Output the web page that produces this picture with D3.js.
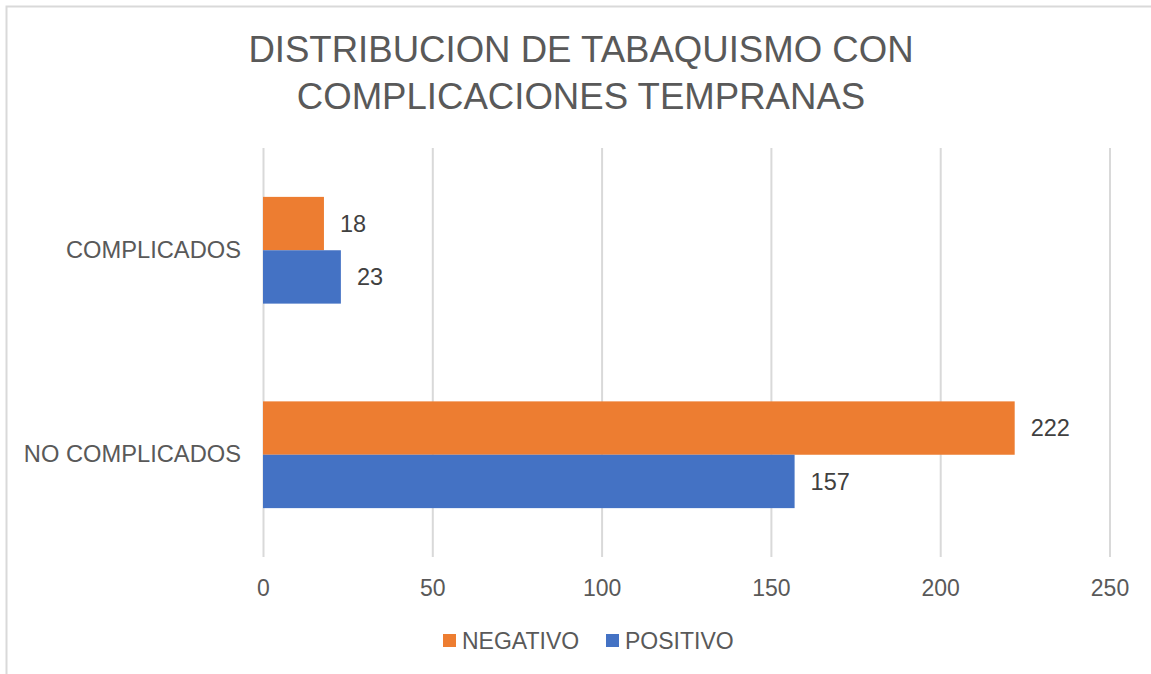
<!DOCTYPE html>
<html>
<head>
<meta charset="utf-8">
<script src="https://cdn.jsdelivr.net/npm/d3@7"></script>
<style>
  html, body { margin: 0; padding: 0; background: #fff; }
  svg { display: block; font-family: "Liberation Sans", Arial, Helvetica, sans-serif; }
  .gridline line { stroke: #d9d9d9; stroke-width: 2; }
  .x-axis text { fill: #595959; font-size: 23px; }
  .y-axis text { fill: #595959; font-size: 23.7px; }
</style>
</head>
<body>
<div id="chart"></div>
<script>
// DATA
const categories = ['COMPLICADOS', 'NO COMPLICADOS'];
const seriesNames = ['NEGATIVO', 'POSITIVO'];
const negativo = [18, 222];
const positivo = [23, 157];
const xTicks = [0, 50, 100, 150, 200, 250];
const titleLines = ['DISTRIBUCION DE TABAQUISMO CON', 'COMPLICACIONES TEMPRANAS'];

// THE GOOD STUFF
const width = 1151;
const height = 674;
const colours = ['#ED7D31', '#4472C4'];
const textColour = '#595959';
const margin = {
	top: 148,
	right: 41.5,
	bottom: 117,
	left: 263
};

const svg = d3.select('#chart')
	.append('svg')
	.attr('width', width)
	.attr('height', height);

// border (only top & left visible, rest runs off the picture)
svg.append('rect')
	.attr('x', 6.5)
	.attr('y', 6.5)
	.attr('width', width + 20)
	.attr('height', height + 20)
	.attr('fill', 'none')
	.attr('stroke', '#d9d9d9')
	.attr('stroke-width', 2);

// title
svg.append('text')
	.attr('text-anchor', 'middle')
	.attr('fill', textColour)
	.style('font-size', '36.6px')
	.selectAll('tspan')
	.data(titleLines)
	.join('tspan')
	.attr('x', 581)
	.attr('y', (d, i) => 62 + i * 47)
	.text(d => d);

// scales
const xScale = d3.scaleLinear()
	.domain([0, 250])
	.range([margin.left, width - margin.right]);

const yScale = d3.scaleBand()
	.domain(categories)
	.range([margin.top, height - margin.bottom])
	.paddingInner(0.478)
	.paddingOuter(0.239);

const ySub = d3.scaleBand()
	.domain(seriesNames)
	.range([0, yScale.bandwidth()]);

// gridlines
svg.append('g')
	.attr('class', 'gridline')
	.attr('transform', `translate(0,${height - margin.bottom})`)
	.call(d3.axisBottom(xScale)
		.tickValues(xTicks)
		.tickSize(-(height - margin.top - margin.bottom))
		.tickFormat('')
	)
	.call(g => g.select('.domain').remove());

// x axis labels
svg.append('g')
	.attr('class', 'x-axis')
	.attr('transform', `translate(0,${height - margin.bottom})`)
	.call(d3.axisBottom(xScale)
		.tickValues(xTicks)
		.tickSize(0)
		.tickPadding(0)
	)
	.call(g => g.select('.domain').remove())
	.call(g => g.selectAll('text').attr('dy', null).attr('y', 39).style('font-family', null));

// y axis labels
svg.append('g')
	.attr('class', 'y-axis')
	.attr('transform', `translate(${margin.left},0)`)
	.call(d3.axisLeft(yScale).tickSize(0).tickPadding(22))
	.call(g => g.select('.domain').remove())
	.call(g => g.selectAll('text').style('font-family', null));

// bars
const series = [negativo, positivo];
series.forEach((values, i) => {
	const rows = categories.map((c, j) => ({ cat: c, value: values[j] }));
	const g = svg.append('g').attr('class', 'bar');

	g.selectAll('rect')
		.data(rows)
		.join('rect')
		.attr('fill', colours[i])
		.attr('x', xScale(0))
		.attr('y', d => yScale(d.cat) + ySub(seriesNames[i]))
		.attr('width', d => xScale(d.value) - xScale(0))
		.attr('height', ySub.bandwidth());

	g.selectAll('text')
		.data(rows)
		.join('text')
		.attr('fill', '#404040')
		.style('font-size', '23.5px')
		.attr('x', d => xScale(d.value) + 16)
		.attr('y', d => yScale(d.cat) + ySub(seriesNames[i]) + ySub.bandwidth() / 2)
		.attr('dy', '0.35em')
		.text(d => d.value);
});

// legend
const legendX = [443, 606];
const legend = svg.append('g')
	.selectAll('g')
	.data(seriesNames)
	.join('g')
	.attr('transform', (d, i) => `translate(${legendX[i]},634)`);

legend.append('rect')
	.attr('width', 13)
	.attr('height', 13)
	.attr('fill', (d, i) => colours[i]);

legend.append('text')
	.attr('x', 19)
	.attr('y', 7)
	.attr('dy', '0.35em')
	.attr('fill', textColour)
	.style('font-size', '23px')
	.text(d => d);
</script>
</body>
</html>
